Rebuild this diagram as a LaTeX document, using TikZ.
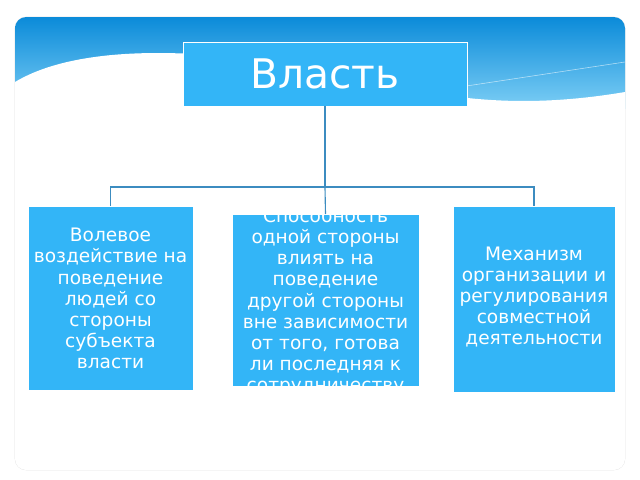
\documentclass[tikz,border=0pt]{standalone}
\usepackage{fontspec}
\setmainfont{DejaVu Sans}
\usetikzlibrary{positioning}
\definecolor{boxblue}{HTML}{33B5F7}
\definecolor{lineblue}{HTML}{3C8CC0}
\definecolor{topblue}{HTML}{0B8BD9}
\definecolor{lowblue}{HTML}{7CCEF5}
\begin{document}
\begin{tikzpicture}[x=0.025cm, y=-0.025cm,
    box/.style = {draw=white, line width=0.6pt, fill=boxblue, text=white,
                  align=center, inner sep=0pt},
    boxtext/.style = {text=white, align=center, inner sep=0pt,
                  font=\fontsize{13.2}{15}\selectfont},
    link/.style = {draw=lineblue, line width=0.8pt}]
    \useasboundingbox (0,0) rectangle (640,480);
    % card and header
    \fill[white] (0,0) rectangle (640,480);
    \draw[black!12, rounded corners=8] (15,17) rectangle (625,470);
    \begin{scope}
        \clip[rounded corners=8] (15,17) rectangle (625,470);
        \shade[top color=topblue, bottom color=lowblue]
            (15,17) -- (625,17) -- (625,108) -- (15,108) -- cycle;
        \fill[white] (15,82) .. controls (60,55) and (140,45) .. (260,60)
            .. controls (380,75) and (460,120) .. (625,92) -- (625,480) -- (15,480) -- cycle;
        \draw[white, opacity=0.6] (440,90) -- (625,62);
        \draw[white, opacity=0.6] (440,90) -- (560,126);
    \end{scope}
    % nodes
    \node[box, minimum width=7.1cm, minimum height=1.6cm, font=\fontsize{29}{34}\selectfont]
        (power) at (325,74) {Власть};
    \node[box, minimum width=4.125cm, minimum height=4.6cm, anchor=north]
        (will) at (110.5,206) {};
    \node[box, minimum width=4.675cm, minimum height=4.3cm, anchor=north]
        (ability) at (325.5,214) {};
    \node[box, minimum width=4.05cm, minimum height=4.65cm, anchor=north]
        (mech) at (534,206) {};
    % texts
    \node[boxtext, anchor=north] (willtext) at (110.5,228)
        {Волевое\\воздействие на\\поведение\\людей со\\стороны\\субъекта\\власти};
    \begin{scope}
        \clip (ability.north west) rectangle (ability.south east);
        \node[boxtext, anchor=north] (abilitytext) at (325.5,208)
            {Способность\\одной стороны\\влиять на\\поведение\\другой стороны\\вне зависимости\\от того, готова\\ли последняя к\\сотрудничеству};
    \end{scope}
    \node[boxtext] (mechtext) at (534,297)
        {Механизм\\организации и\\регулирования\\совместной\\деятельности};
    % connectors
    \coordinate (fork) at (325,187);
    \draw[link] (power.south) -- (fork);
    \draw[link] (fork) -| (will.north);
    \draw[link] (fork) -| (mech.north);
    \draw[link] (fork) -- (ability.north);
\end{tikzpicture}
\end{document}
